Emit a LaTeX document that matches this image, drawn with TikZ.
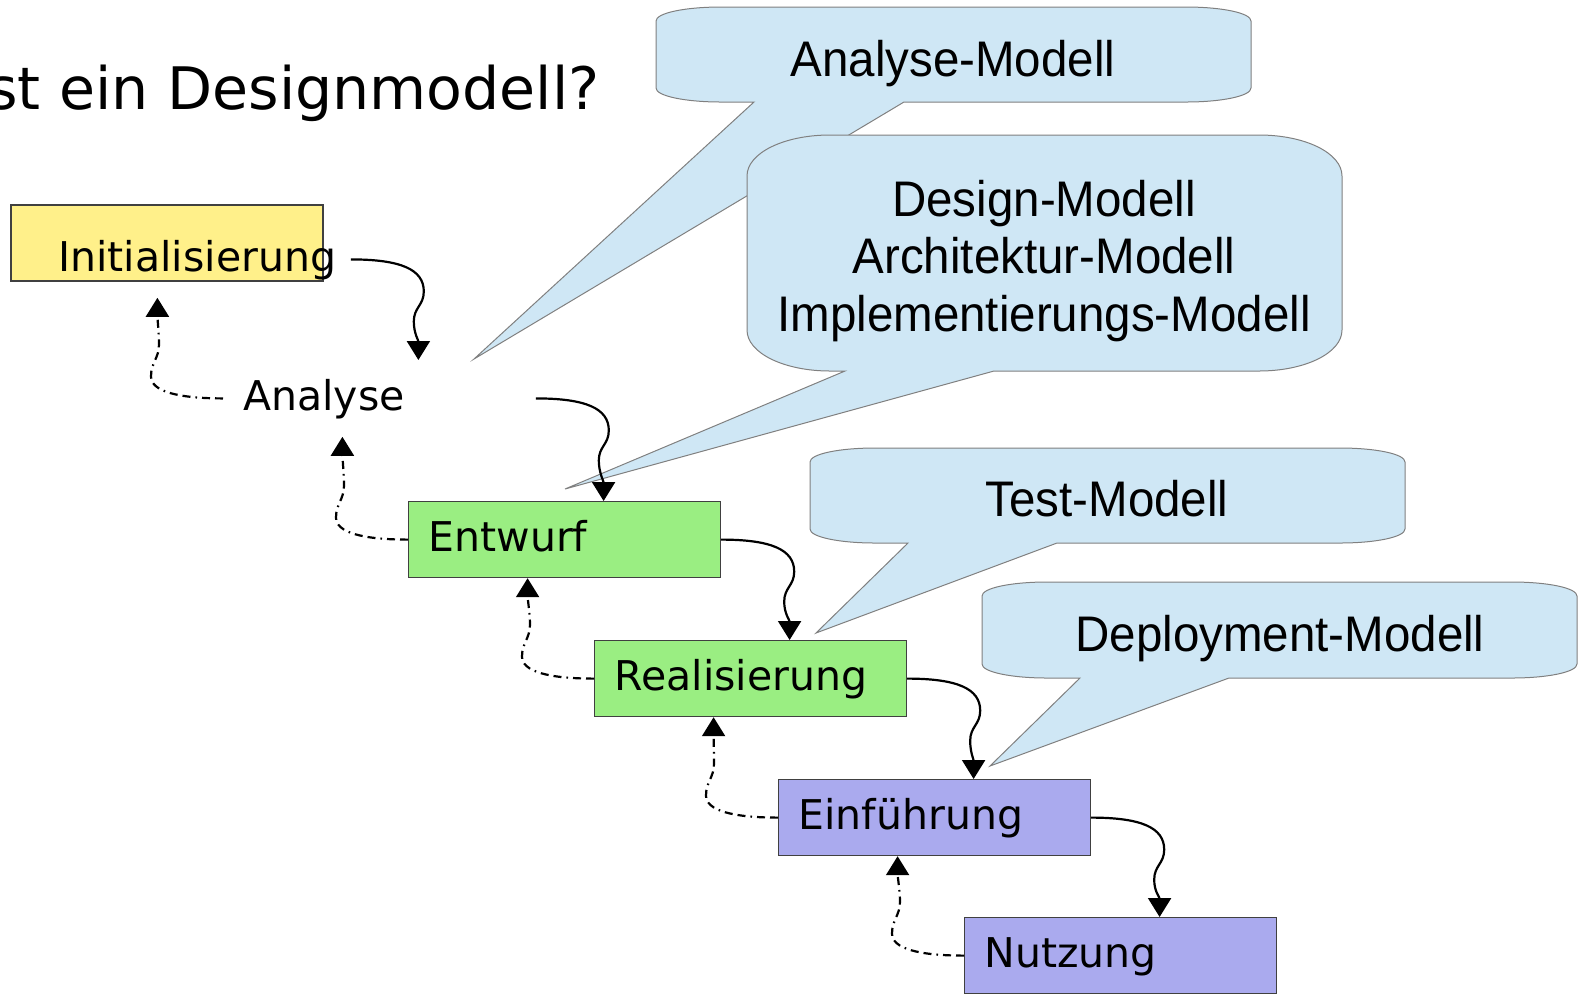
\documentclass[tikz,border=0pt]{standalone}
\usepackage{fontspec}
\setmainfont{DejaVu Sans}
\newfontfamily\bubblefont[FakeStretch=0.95]{Liberation Sans}
\usepackage{xcolor}
\definecolor{initcolor}{HTML}{FFF08A}
\definecolor{buildcolor}{HTML}{9AEE82}
\definecolor{runcolor}{HTML}{AAAAEE}
\definecolor{bubblefill}{HTML}{CFE7F5}
\definecolor{bubbleline}{HTML}{808080}
\usetikzlibrary{arrows.meta}

\begin{document}
\begin{tikzpicture}[x=0.5pt,y=0.5pt,yscale=-1,
	stage/.style={anchor=north west, inner xsep=10pt, inner ysep=0pt, text width=136pt, minimum height=38pt, align=left, text height=1.2em, text depth=0.03em, font=\fontsize{20.5pt}{24pt}\selectfont, execute at begin node={\hyphenpenalty=10000}},
	box/.style={stage, draw=black!75, line width=0.6pt},
	fwd/.style={line width=1.1pt, -{Triangle[length=9.5pt,width=11.5pt]}},
	back/.style={line width=1.1pt, dash pattern={on 4pt off 2.5pt on 4pt off 2.5pt on 0.8pt off 2.5pt}, -{Triangle[length=9.5pt,width=11.5pt]}},
	bubble/.style={fill=bubblefill, draw=bubbleline, line width=0.5pt},
	bubbletext/.style={font=\bubblefont\fontsize{25pt}{28.85pt}\selectfont, align=center, inner sep=0pt}]
		\useasboundingbox (0,0) rectangle (1587,993);
		% speech bubbles
		\draw [bubble] (721,7) -- (1186,7) .. controls (1222,7) and (1251,13) .. (1251,21) -- (1251,88) .. controls (1251,96) and (1222,102) .. (1186,102) -- (904,102) -- (474,359) -- (754,102) -- (721,102) .. controls (685,102) and (656,96) .. (656,88) -- (656,21) .. controls (656,13) and (685,7) .. (721,7) -- cycle ;
		\draw [bubble] (830,135) -- (1259,135) .. controls (1305,135) and (1342,153) .. (1342,176) -- (1342,330) .. controls (1342,353) and (1305,371) .. (1259,371) -- (994,371) -- (565,489) -- (845,371) -- (830,371) .. controls (784,371) and (747,353) .. (747,330) -- (747,176) .. controls (747,153) and (784,135) .. (830,135) -- cycle ;
		\draw [bubble] (875,448) -- (1340,448) .. controls (1376,448) and (1405,454) .. (1405,462) -- (1405,529) .. controls (1405,537) and (1376,543) .. (1340,543) -- (1057,543) -- (816,633) -- (908,543) -- (875,543) .. controls (839,543) and (810,537) .. (810,529) -- (810,462) .. controls (810,454) and (839,448) .. (875,448) -- cycle ;
		\draw [bubble] (1047,582) -- (1512,582) .. controls (1548,582) and (1577,588) .. (1577,596) -- (1577,664) .. controls (1577,672) and (1548,678) .. (1512,678) -- (1229,678) -- (990,766) -- (1080,678) -- (1047,678) .. controls (1011,678) and (982,672) .. (982,664) -- (982,596) .. controls (982,588) and (1011,582) .. (1047,582) -- cycle ;
		\node [bubbletext, anchor=base] (analysemodell) at (953,76) {Analyse-Modell};
		\node [bubbletext] (designmodell) at (1044,261) {Design-Modell\\Architektur-Modell\\Implementierungs-Modell};
		\node [bubbletext, anchor=base] (testmodell) at (1107,516) {Test-Modell};
		\node [bubbletext, anchor=base] (deploymodell) at (1280,651) {Deployment-Modell};
		% title
		\node [anchor=base east, inner sep=0pt, font=\fontsize{29.3pt}{34pt}\selectfont] (titel) at (600,109) {st ein Designmodell?};
		% phases
		\draw [draw=black!75, line width=0.6pt, fill=initcolor] (11,205) rectangle (323,281) ;
		\node [stage] (init) at (38,221) {Initialisierung};
		\node [stage] (ana) at (223,360) {Analyse};
		\node [box, fill=buildcolor] (entw) at (408,501) {Entwurf};
		\node [box, fill=buildcolor] (real) at (594,640) {Realisierung};
		\node [box, fill=runcolor] (einf) at (778,779) {Einführung};
		\node [box, fill=runcolor] (nutz) at (964,917) {Nutzung};
		% forward
		\draw [fwd] (init.east) .. controls +(50,0) and +(0,-22) .. ++(73,32) .. controls +(0,14) and +(0,-14) .. ++(-10,30) .. controls +(0,12) and +(0,-20) .. ([xshift=19.5pt]ana.north) ;
		\draw [fwd] (ana.east) .. controls +(50,0) and +(0,-22) .. ++(73,32) .. controls +(0,14) and +(0,-14) .. ++(-10,30) .. controls +(0,12) and +(0,-20) .. ([xshift=19.5pt]entw.north) ;
		\draw [fwd] (entw.east) .. controls +(50,0) and +(0,-22) .. ++(73,32) .. controls +(0,14) and +(0,-14) .. ++(-10,30) .. controls +(0,12) and +(0,-20) .. ([xshift=19.5pt]real.north) ;
		\draw [fwd] (real.east) .. controls +(50,0) and +(0,-22) .. ++(73,32) .. controls +(0,14) and +(0,-14) .. ++(-10,30) .. controls +(0,12) and +(0,-20) .. ([xshift=19.5pt]einf.north) ;
		\draw [fwd] (einf.east) .. controls +(50,0) and +(0,-22) .. ++(73,32) .. controls +(0,14) and +(0,-14) .. ++(-10,30) .. controls +(0,12) and +(0,-20) .. ([xshift=19.5pt]nutz.north) ;
		% back
		\draw [back] (ana.west) .. controls +(-45,0) and +(0,15) .. ++(-72,-22) .. controls +(0,-14) and +(0,14) .. ++(8,-32) .. controls +(0,-10) and +(0,20) .. ([xshift=-18.5pt]init.south) ;
		\draw [back] (entw.west) .. controls +(-45,0) and +(0,15) .. ++(-72,-22) .. controls +(0,-14) and +(0,14) .. ++(8,-32) .. controls +(0,-10) and +(0,20) .. ([xshift=-18.5pt]ana.south) ;
		\draw [back] (real.west) .. controls +(-45,0) and +(0,15) .. ++(-72,-22) .. controls +(0,-14) and +(0,14) .. ++(8,-32) .. controls +(0,-10) and +(0,20) .. ([xshift=-18.5pt]entw.south) ;
		\draw [back] (einf.west) .. controls +(-45,0) and +(0,15) .. ++(-72,-22) .. controls +(0,-14) and +(0,14) .. ++(8,-32) .. controls +(0,-10) and +(0,20) .. ([xshift=-18.5pt]real.south) ;
		\draw [back] (nutz.west) .. controls +(-45,0) and +(0,15) .. ++(-72,-22) .. controls +(0,-14) and +(0,14) .. ++(8,-32) .. controls +(0,-10) and +(0,20) .. ([xshift=-18.5pt]einf.south) ;
\end{tikzpicture}
\end{document}
